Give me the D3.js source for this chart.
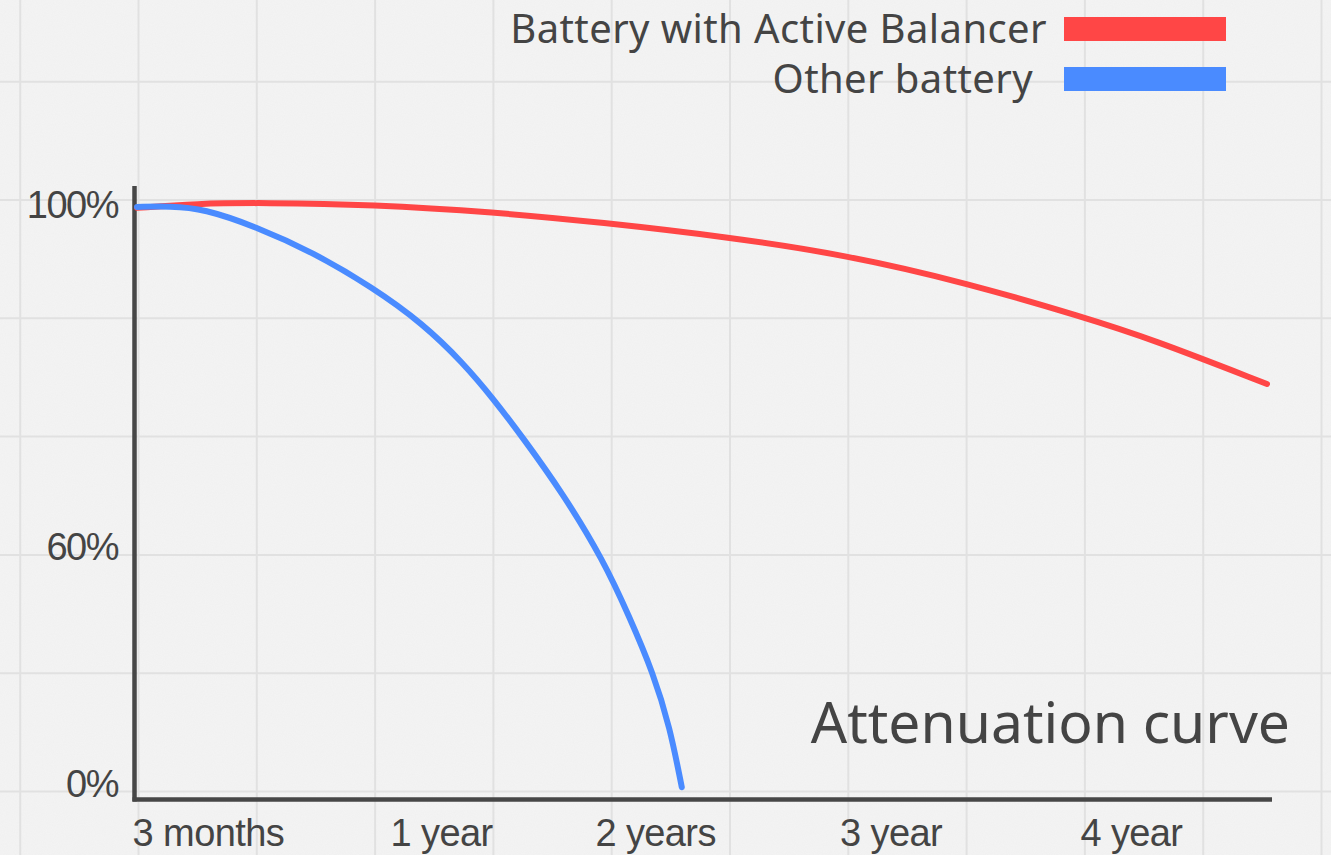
<!DOCTYPE html>
<head>
	<meta charset="utf-8">
	<style>
		html, body { margin: 0; padding: 0; background: #f2f2f2; }
		svg { display: block; }
	</style>
	<script src="https://d3js.org/d3.v7.min.js"></script>
</head>
<body>
	<svg width="1331" height="855"></svg>
	<script type="text/javascript">
		// x in years from origin, y in percent of capacity
		var seriesNames = ["Battery with Active Balancer", "Other battery"];
		var seriesColors = ["#ff4646", "#4a8bff"];

		var activeYears = [0, 0.25, 0.53, 0.99, 1.50, 1.95, 2.48, 2.98, 3.49, 3.98, 4.26, 4.75];
		var activeLevel = [99.9, 100.4, 100.5, 100.3, 99.4, 98.2, 96.5, 94.4, 91.1, 87.1, 84.6, 79.3];

		var otherYears = [0, 0.14, 0.28, 0.50, 0.74, 0.99, 1.20, 1.37, 1.50, 1.62, 1.79, 1.96, 2.07, 2.17, 2.24, 2.29];
		var otherLevel = [100, 100.1, 99.8, 97.7, 94.7, 90.6, 86.4, 81.8, 77.5, 73.1, 66.5, 57.2, 42.8, 28.6, 14.9, -0.3];

		var xTickLabels = ["3 months", "1 year", "2 years", "3 year", "4 year"];
		var xTickValues = [0.3, 1.28, 2.18, 3.17, 4.18];
		var yTickLabels = ["100%", "60%", "0%"];
		var yTickValues = [100, 60, 0];

		var svg = d3.select("svg"),
			width = +svg.attr("width"),
			height = +svg.attr("height");

		// paper background with a little grain
		var defs = svg.append("defs");
		var f = defs.append("filter").attr("id", "grain").attr("x", 0).attr("y", 0).attr("width", "100%").attr("height", "100%");
		f.append("feTurbulence").attr("type", "fractalNoise").attr("baseFrequency", 0.9).attr("numOctaves", 2).attr("seed", 3);
		f.append("feColorMatrix").attr("type", "matrix")
			.attr("values", "0 0 0 0 0.55  0 0 0 0 0.55  0 0 0 0 0.55  0 0 0 0.09 0");

		svg.append("rect").attr("width", width).attr("height", height).attr("fill", "#f4f4f4");
		svg.append("rect").attr("width", width).attr("height", height).attr("filter", "url(#grain)");

		// background grid, whole page
		var cell = 118.3;
		var grid = svg.append("g").attr("stroke", "#e1e1e1").attr("stroke-width", 2);
		grid.selectAll(".gv").data(d3.range(138.5 - cell, width, cell)).enter().append("line")
			.attr("x1", function(d){return d}).attr("x2", function(d){return d})
			.attr("y1", 0).attr("y2", height);
		grid.selectAll(".gh").data(d3.range(200 - 2 * cell, height, cell)).enter().append("line")
			.attr("y1", function(d){return d}).attr("y2", function(d){return d})
			.attr("x1", 0).attr("x2", width);

		var x = d3.scaleLinear().domain([0, 4.75]).range([137, 1267]);
		var y = d3.scaleLinear().domain([0, 60, 100]).range([786, 549, 207]);

		// axes
		var axis = svg.append("g").attr("stroke", "#464646").attr("stroke-width", 4.5);
		axis.append("line").attr("x1", 134.5).attr("x2", 134.5).attr("y1", 186).attr("y2", 801.5);
		axis.append("line").attr("x1", 132.5).attr("x2", 1272).attr("y1", 799.5).attr("y2", 799.5);

		svg.append("g").selectAll("text").data(yTickValues).enter().append("text")
			.attr("x", 118).attr("y", function(d){return y(d)}).attr("dy", "0.3em")
			.attr("text-anchor", "end")
			.attr("font-family", "'Liberation Sans', Arial, sans-serif").attr("font-size", 38)
			.attr("letter-spacing", "-1.5px").attr("fill", "#444")
			.text(function(d, i){return yTickLabels[i]});

		svg.append("g").selectAll("text").data(xTickValues).enter().append("text")
			.attr("x", function(d){return x(d)}).attr("y", 846)
			.attr("text-anchor", "middle")
			.attr("font-family", "'Liberation Sans', Arial, sans-serif").attr("font-size", 38)
			.attr("letter-spacing", "-0.6px").attr("fill", "#444")
			.text(function(d, i){return xTickLabels[i]});

		// curves
		var line = d3.line()
			.x(function(d){return x(d[0])})
			.y(function(d){return y(d[1])})
			.curve(d3.curveBasis);

		var series = [d3.zip(activeYears, activeLevel), d3.zip(otherYears, otherLevel)];
		svg.append("g").selectAll("path").data(series).enter().append("path")
			.attr("d", line)
			.attr("fill", "none")
			.attr("stroke", function(d, i){return seriesColors[i]})
			.attr("stroke-width", 6)
			.attr("stroke-linecap", "round")
			.attr("stroke-linejoin", "round");

		// legend
		var legend = svg.append("g").selectAll("g").data(seriesNames).enter().append("g")
			.attr("transform", function(d, i){return "translate(0," + (i * 50) + ")"});
		legend.append("rect").attr("x", 1064).attr("y", 17).attr("width", 162).attr("height", 24)
			.attr("fill", function(d, i){return seriesColors[i]});
		legend.append("text").attr("x", function(d, i){return i ? 1033 : 1047}).attr("y", 43)
			.attr("text-anchor", "end")
			.attr("font-family", "'Noto Sans', sans-serif").attr("font-size", 40)
			.attr("letter-spacing", "0.4px").attr("fill", "#444")
			.text(function(d){return d});

		svg.append("text").attr("x", 1290).attr("y", 743).attr("text-anchor", "end")
			.attr("font-family", "'Noto Sans', sans-serif").attr("font-size", 57)
			.attr("fill", "#444")
			.text("Attenuation curve");
	</script>
</body>
